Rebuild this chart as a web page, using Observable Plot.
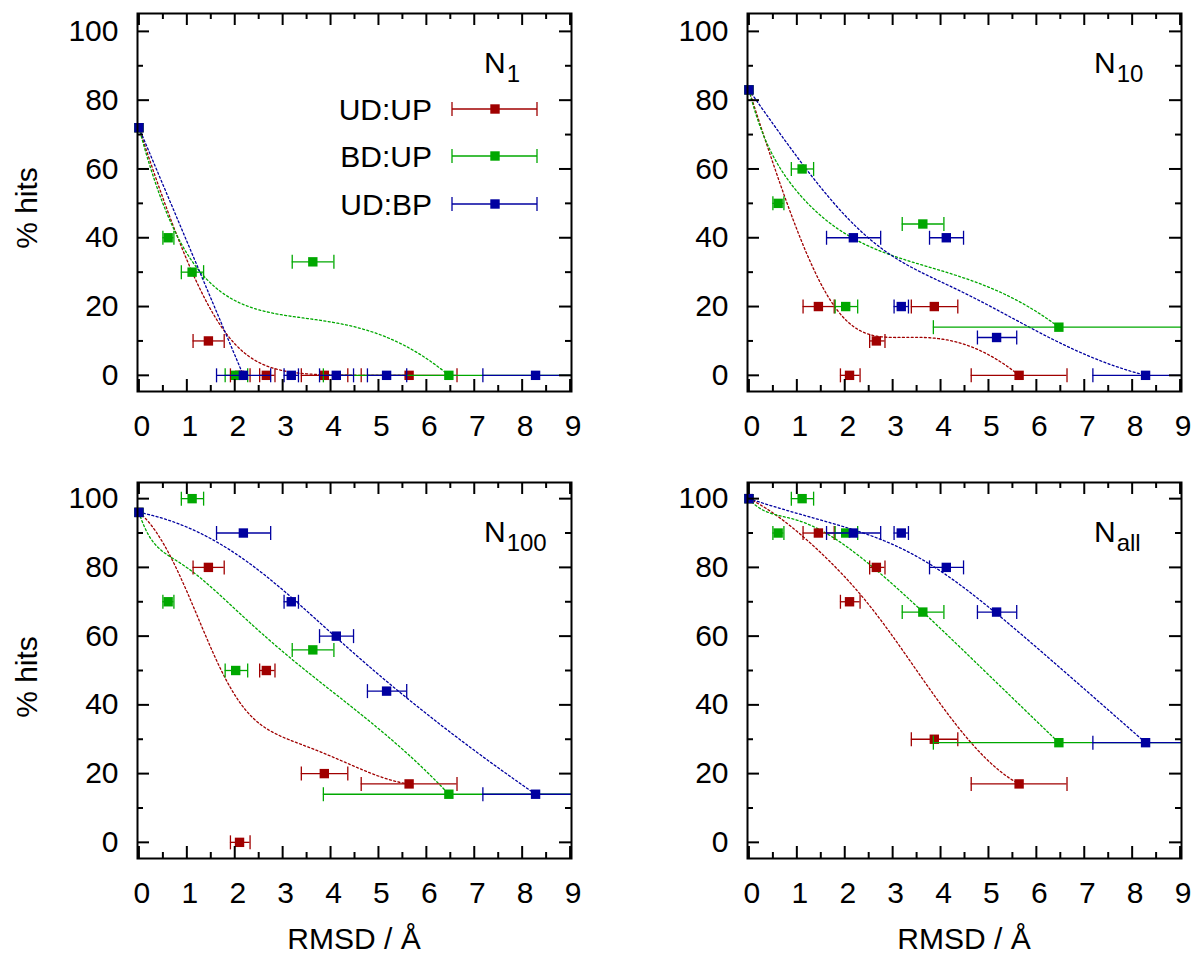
<!DOCTYPE html>
<html><head><meta charset="utf-8">
<script src="https://cdn.jsdelivr.net/npm/d3@7"></script>
<script src="https://cdn.jsdelivr.net/npm/@observablehq/plot@0.6"></script>
<style>
body{margin:0;background:#fff;}
#root{position:relative;width:1200px;height:959px;overflow:hidden;font-family:"Liberation Sans",Arial,Helvetica,sans-serif;}
#root svg{position:absolute;}
</style></head><body><div id="root"></div>
<script>
// ---------- data ----------
const seriesNames = ["UD:UP", "BD:UP", "UD:BP"];
const seriesColors = ["#a00000", "#00a800", "#0000a0"];
const panelNames = ["N1", "N10", "N100", "Nall"];
const panelSubscripts = ["1", "10", "100", "all"];
const xTickLabels = [0, 1, 2, 3, 4, 5, 6, 7, 8, 9];
const yTickLabels = [0, 20, 40, 60, 80, 100];
const xAxisTitle = "RMSD / Å";
const yAxisTitle = "% hits";

// RMSD of each structure (Å) with error-bar ends (first entry: reference at 0)
const rmsdUDUP   = [0, 1.45, 2.10, 2.66, 3.87, 5.64];
const rmsdUDUPlo = [null, 1.13, 1.91, 2.52, 3.39, 4.64];
const rmsdUDUPhi = [null, 1.78, 2.32, 2.84, 4.36, 6.64];
const rmsdBDUP   = [0, 0.61, 1.11, 2.02, 3.63, 6.47];
const rmsdBDUPlo = [null, 0.50, 0.885, 1.80, 3.20, 3.85];
const rmsdBDUPhi = [null, 0.73, 1.35, 2.27, 4.07, 9.10];
const rmsdUDBP   = [0, 2.18, 3.18, 4.12, 5.17, 8.28];
const rmsdUDBPlo = [null, 1.62, 3.03, 3.77, 4.77, 7.18];
const rmsdUDBPhi = [null, 2.75, 3.33, 4.48, 5.59, 9.38];

// % hits per panel and series
const hitsN1UDUP   = [72, 10, 0, 0, 0, 0];
const hitsN1BDUP   = [72, 40, 30, 0, 33, 0];
const hitsN1UDBP   = [72, 0, 0, 0, 0, 0];
const hitsN10UDUP  = [83, 20, 0, 10, 20, 0];
const hitsN10BDUP  = [83, 50, 60, 20, 44, 14];
const hitsN10UDBP  = [83, 40, 20, 40, 11, 0];
const hitsN100UDUP = [96, 80, 0, 50, 20, 17];
const hitsN100BDUP = [96, 70, 100, 50, 56, 14];
const hitsN100UDBP = [96, 90, 70, 60, 44, 14];
const hitsNallUDUP = [100, 90, 70, 80, 30, 17];
const hitsNallBDUP = [100, 90, 100, 90, 67, 29];
const hitsNallUDBP = [100, 90, 90, 80, 67, 29];

// trend curve that stops early in the reference
const trendEnd = [{panel: "N1", series: "UD:BP", maxRmsd: 2.2}];

// ---------- build tables ----------
const rmsdBySeries = [
  [rmsdUDUP, rmsdUDUPlo, rmsdUDUPhi],
  [rmsdBDUP, rmsdBDUPlo, rmsdBDUPhi],
  [rmsdUDBP, rmsdUDBPlo, rmsdUDBPhi]
];
const hitsByPanel = [
  [hitsN1UDUP, hitsN1BDUP, hitsN1UDBP],
  [hitsN10UDUP, hitsN10BDUP, hitsN10UDBP],
  [hitsN100UDUP, hitsN100BDUP, hitsN100UDBP],
  [hitsNallUDUP, hitsNallBDUP, hitsNallUDBP]
];

// Bezier smoothing curve (like gnuplot "smooth bezier")
function curveBezier(context) {
  let pts = [];
  return {
    areaStart() {}, areaEnd() {},
    lineStart() { pts = []; },
    point(x, y) { pts.push([+x, +y]); },
    lineEnd() {
      const n = pts.length - 1;
      if (n < 0) return;
      const N = 300;
      for (let i = 0; i <= N; i++) {
        const t = i / N;
        const px = pts.map(p => p[0]), py = pts.map(p => p[1]);
        for (let k = n; k > 0; k--) for (let j = 0; j < k; j++) {
          px[j] = px[j] * (1 - t) + px[j + 1] * t;
          py[j] = py[j] * (1 - t) + py[j + 1] * t;
        }
        if (i === 0) context.moveTo(px[0], py[0]); else context.lineTo(px[0], py[0]);
      }
    }
  };
}

const capSymbol = {draw(ctx) { ctx.moveTo(0, -7); ctx.lineTo(0, 7); }};

const root = document.getElementById("root");
const FONT = "'Liberation Sans', Arial, Helvetica, sans-serif";
const FS = 30;
const xMajor = d3.range(0, 9.01, 1), xMinor = d3.range(0.5, 9, 1);
const yMajor = d3.range(0, 101, 20), yMinor = d3.range(10, 100, 20);

panelNames.forEach((pname, pi) => {
  const col = pi % 2, row = Math.floor(pi / 2);
  const left = col ? 610 : 0, top = row ? 469 : 0;
  const width = col ? 590 : 600;
  const height = row ? 490 : 469;
  const frameW = 434, frameH = row ? 376 : 378;
  const marginLeft = 137, marginTop = 13;
  const marginRight = width - marginLeft - frameW;
  const marginBottom = height - marginTop - frameH;

  const marks = [];
  const seriesData = seriesNames.map((sname, si) => {
    const [xs, lo, hi] = rmsdBySeries[si];
    const ys = hitsByPanel[pi][si];
    return xs.map((x, k) => ({x, y: ys[k], lo: lo[k], hi: hi[k], series: sname}));
  });
  // trend curves
  seriesNames.forEach((sname, si) => {
    const cut = trendEnd.find(d => d.panel === pname && d.series === sname);
    const pts = seriesData[si]
      .filter(d => !cut || d.x <= cut.maxRmsd)
      .slice().sort((a, b) => a.x - b.x);
    marks.push(Plot.line(pts, {x: "x", y: "y", curve: curveBezier, stroke: seriesColors[si],
      strokeWidth: 1.3, strokeDasharray: "2,2.4", clip: true}));
  });
  // error bars and points
  seriesNames.forEach((sname, si) => {
    const bars = seriesData[si].filter(d => d.lo != null);
    marks.push(Plot.ruleY(bars, {y: "y", x1: "lo", x2: "hi", stroke: seriesColors[si], strokeWidth: 1.3, clip: true}));
    marks.push(Plot.dot(bars, {x: "lo", y: "y", symbol: capSymbol, r: 3, fill: "none", stroke: seriesColors[si], strokeWidth: 1.3, clip: true}));
    marks.push(Plot.dot(bars, {x: "hi", y: "y", symbol: capSymbol, r: 3, fill: "none", stroke: seriesColors[si], strokeWidth: 1.3, clip: true}));
    marks.push(Plot.dot(seriesData[si], {x: "x", y: "y", symbol: "square", r: 5.3, fill: seriesColors[si], stroke: "none"}));
  });
  // inward ticks on all four sides
  marks.push(
    Plot.ruleX(xMajor, {insetTop: frameH - 12, stroke: "black", strokeWidth: 2}),
    Plot.ruleX(xMajor, {insetBottom: frameH - 12, stroke: "black", strokeWidth: 2}),
    Plot.ruleX(xMinor, {insetTop: frameH - 6, stroke: "black", strokeWidth: 2}),
    Plot.ruleX(xMinor, {insetBottom: frameH - 6, stroke: "black", strokeWidth: 2}),
    Plot.ruleY(yMajor, {insetRight: frameW - 12, stroke: "black", strokeWidth: 2}),
    Plot.ruleY(yMajor, {insetLeft: frameW - 12, stroke: "black", strokeWidth: 2}),
    Plot.ruleY(yMinor, {insetRight: frameW - 6, stroke: "black", strokeWidth: 2}),
    Plot.ruleY(yMinor, {insetLeft: frameW - 6, stroke: "black", strokeWidth: 2}),
    Plot.frame({stroke: "black", strokeWidth: 2}),
    Plot.axisX(xTickLabels, {tickSize: 0, tickPadding: 23, dx: 3, label: null, fill: "black"}),
    Plot.axisY(yTickLabels, {tickSize: 0, tickPadding: 19, label: null, fill: "black"})
  );

  const svg = Plot.plot({
    width, height, marginLeft, marginRight, marginTop, marginBottom,
    x: {domain: [-0.03, 9.03]},
    y: {domain: row ? [-4.7, 104.7] : [-4.7, 105.2]},
    style: {fontSize: FS + "px", fontFamily: FONT, color: "black", background: "transparent", overflow: "visible"},
    marks
  });
  svg.style.left = left + "px";
  svg.style.top = top + "px";
  root.appendChild(svg);
});

// ---------- overlay texts: axis titles, panel labels, legend ----------
const ov = d3.select(root).append("svg")
  .attr("width", 1200).attr("height", 959)
  .style("left", "0px").style("top", "0px").style("pointer-events", "none")
  .attr("font-family", FONT).attr("font-size", FS).attr("fill", "black");

[208, 677].forEach(cy => {
  ov.append("text").attr("transform", `translate(37,${cy}) rotate(-90)`)
    .attr("text-anchor", "middle").text(yAxisTitle);
});
[354, 964].forEach(cx => {
  ov.append("text").attr("x", cx).attr("y", 949).attr("text-anchor", "middle").text(xAxisTitle);
});
const frameLefts = [137, 747, 137, 747], frameTops = [13, 13, 482, 482];
panelNames.forEach((p, i) => {
  const t = ov.append("text").attr("x", frameLefts[i] + 347).attr("y", frameTops[i] + 60);
  t.append("tspan").text("N");
  t.append("tspan").attr("dy", 9).attr("font-size", 24).attr("dx", 1).text(panelSubscripts[i]);
});
// legend (in N1 panel)
const legendY = [109, 156, 204];
seriesNames.forEach((s, i) => {
  const y = legendY[i], c = seriesColors[i];
  ov.append("text").attr("x", 432).attr("y", y + 11).attr("text-anchor", "end").text(s);
  ov.append("line").attr("x1", 452).attr("x2", 537).attr("y1", y).attr("y2", y).attr("stroke", c).attr("stroke-width", 1.3);
  [452, 537].forEach(x => ov.append("line").attr("x1", x).attr("x2", x).attr("y1", y - 7).attr("y2", y + 7).attr("stroke", c).attr("stroke-width", 1.3));
  ov.append("rect").attr("x", 495 - 4.7).attr("y", y - 4.7).attr("width", 9.4).attr("height", 9.4).attr("fill", c);
});
</script></body></html>
